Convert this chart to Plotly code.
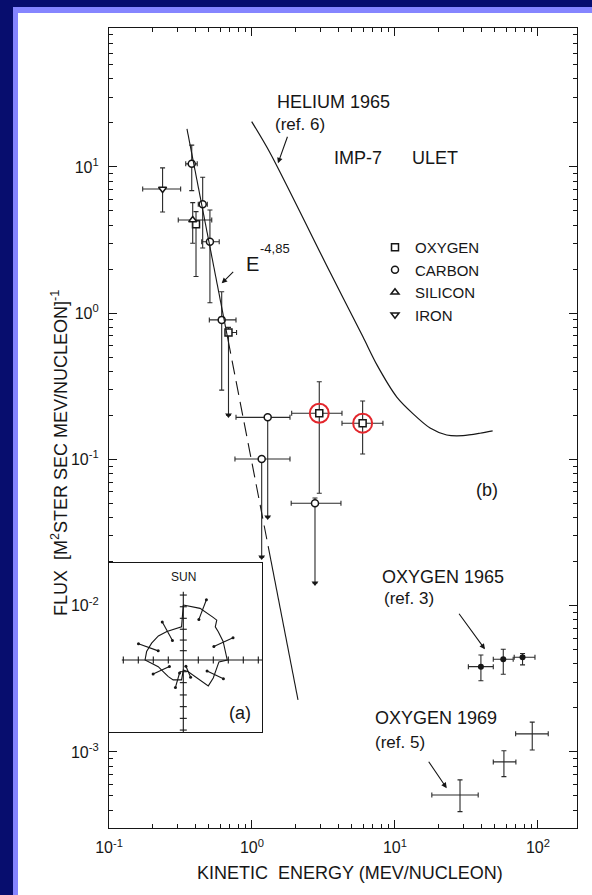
import numpy as np
import plotly.graph_objects as go

# ---------------- data ----------------
# IMP-7 ULET measurements (energy MeV/nucleon, flux)
pt_species = ["IRON", "CARBON", "CARBON", "SILICON", "OXYGEN", "CARBON", "CARBON",
              "OXYGEN", "CARBON", "OXYGEN", "OXYGEN", "CARBON", "CARBON"]
pt_E = [0.237, 0.379, 0.452, 0.385, 0.406, 0.508, 0.614, 0.685, 1.288, 2.955, 5.94, 1.169, 2.758]
pt_F = [7.07, 10.5, 5.56, 4.34, 4.06, 3.08, 0.90, 0.738, 0.194, 0.207, 0.177, 0.1008, 0.0502]
pt_E_lo = [0.172, 0.344, 0.421, 0.305, 0.406, 0.445, 0.503, 0.665, 0.773, 1.895, 4.26, 0.760, 1.88]
pt_E_hi = [0.317, 0.414, 0.487, 0.523, 0.406, 0.590, 0.773, 0.780, 1.844, 4.26, 8.24, 1.844, 4.19]
pt_F_lo = [4.92, 6.89, 2.79, 3.01, 1.78, 1.18, 0.298, 0.201, 0.0404, 0.0587, 0.109, 0.0215, 0.0143]
pt_F_hi = [9.85, 14.1, 8.5, 5.70, 4.95, 5.08, 1.40, 0.80, 0.194, 0.340, 0.251, 0.1008, 0.0545]
pt_upper_limit = [False, False, False, False, False, False, False, True, True, False, False, True, True]
pt_circled = [False, False, False, False, False, False, False, False, False, True, True, False, False]

species_order = ["OXYGEN", "CARBON", "SILICON", "IRON"]
species_symbol = {"OXYGEN": "square", "CARBON": "circle", "SILICON": "triangle-up", "IRON": "triangle-down"}

# Helium 1965 (ref. 6)
he_E = [0.995, 1.336, 3.51, 5.97, 7.48, 10.3, 13.4, 17.6, 23.0, 29.9, 39.3, 48.2]
he_F = [20.4, 12.5, 1.91, 0.689, 0.443, 0.267, 0.205, 0.164, 0.147, 0.1455, 0.151, 0.157]

# E^-4.85 fit line (solid / dashed / solid pieces)
fit_solid1_E = [0.351, 0.68]
fit_solid1_F = [18.2, 0.656]
fit_dash_E = [0.68, 1.354]
fit_dash_F = [0.656, 0.0206]
fit_solid2_E = [1.354, 2.098]
fit_solid2_F = [0.0206, 0.00227]

# Oxygen 1965 (ref. 3)
o65_E = [39.9, 57.2, 78.0]
o65_F = [0.00383, 0.00430, 0.00444]
o65_E_lo = [32.6, 48.7, 68.2]
o65_E_hi = [48.7, 67.1, 95.3]
o65_F_lo = [0.00307, 0.00340, 0.00394]
o65_F_hi = [0.00460, 0.00504, 0.00471]

# Oxygen 1969 (ref. 5)
o69_E = [28.5, 57.8, 91.2]
o69_F = [0.000508, 0.000855, 0.00133]
o69_E_lo = [18.1, 48.7, 69.8]
o69_E_hi = [38.2, 70.1, 118.0]
o69_F_lo = [0.000391, 0.000678, 0.00103]
o69_F_hi = [0.000644, 0.00102, 0.00160]

# axis tick labels
x_tickvals = [0.1, 1, 10, 100]
x_ticktext = ["10<sup>-1</sup>", "10<sup>0</sup>", "10<sup>1</sup>", "10<sup>2</sup>"]
y_tickvals = [0.001, 0.01, 0.1, 1, 10]
y_ticktext = ["10<sup>-3</sup>", "10<sup>-2</sup>", "10<sup>-1</sup>", "10<sup>0</sup>", "10<sup>1</sup>"]

# Inset (a): angular distribution (angle clockwise from sun direction, radius)
inset_theta = [0, 18, 35, 40, 44, 51, 65, 90, 93, 121, 136, 157, 180, 185, 207, 222, 240,
               255, 270, 283, 298, 314, 330, 357, 360]
inset_r = [3.67, 3.62, 3.47, 3.47, 3.07, 3.00, 2.93, 2.93, 2.38, 2.33, 2.40, 0.85, 0.67, 1.33,
           1.49, 1.49, 1.55, 1.73, 2.55, 2.51, 2.39, 2.31, 2.19, 2.22, 3.67]
inset_err_theta = [21, 66, 115, 157, 196, 245, 290, 331]
inset_err_r = [3.60, 2.93, 2.35, 0.85, 1.40, 1.62, 2.48, 2.19]
inset_err_dr = [0.70, 0.70, 0.60, 0.40, 0.50, 0.60, 0.70, 0.70]
inset_haxis = [-4.1, 5.25]
inset_vaxis = [4.55, -4.8]
inset_hticks = [-4, -3, -2, -1, 1, 2, 3, 4, 5]
inset_vticks = [4.33, 3.55, 2.78, 2.05, 1.33, 0.62, -0.78, -1.51, -2.33, -3.11, -3.89, -4.67]

# arrows (head position in data units, tail offset in px)
arrow_heads_E = [1.52, 0.614, 42.6, 23.0]
arrow_heads_F = [10.6, 1.60, 0.00504, 0.000565]
arrow_ax = [10, 13, -27, -19]
arrow_ay = [-28, -13, -37, -28]

# ---------------- figure ----------------
INK = "#161616"
FONT = "Liberation Sans, Arial, sans-serif"
fig = go.Figure()

ebar = dict(color="#2a2a2a", thickness=1.1, width=2.5)

for sp in species_order:
    idx = [i for i, s in enumerate(pt_species) if s == sp]
    E = np.array([pt_E[i] for i in idx])
    F = np.array([pt_F[i] for i in idx])
    Elo = np.array([pt_E_lo[i] for i in idx])
    Ehi = np.array([pt_E_hi[i] for i in idx])
    Flo = np.array([pt_F_lo[i] for i in idx])
    Fhi = np.array([pt_F_hi[i] for i in idx])
    fig.add_trace(go.Scatter(
        x=E, y=F, mode="markers", name=sp,
        marker=dict(symbol=species_symbol[sp], size=7, color="white",
                    line=dict(color=INK, width=1.5)),
        error_x=dict(type="data", symmetric=False, array=Ehi - E, arrayminus=E - Elo, **ebar),
        error_y=dict(type="data", symmetric=False, array=Fhi - F, arrayminus=F - Flo, **ebar),
    ))

# upper-limit arrow heads
ul = [i for i in range(len(pt_E)) if pt_upper_limit[i]]
fig.add_trace(go.Scatter(
    x=[pt_E[i] for i in ul], y=[pt_F_lo[i] for i in ul], mode="markers", showlegend=False,
    marker=dict(symbol="triangle-down", size=6, color=INK),
))

# red rings
ci = [i for i in range(len(pt_E)) if pt_circled[i]]
fig.add_trace(go.Scatter(
    x=[pt_E[i] for i in ci], y=[pt_F[i] for i in ci], mode="markers", showlegend=False,
    marker=dict(symbol="circle-open", size=19, color="#e3262c", line=dict(width=2, color="#e3262c")),
))

# helium curve
fig.add_trace(go.Scatter(x=he_E, y=he_F, mode="lines", showlegend=False,
                         line=dict(color=INK, width=1.2, shape="spline", smoothing=0.8)))

# fit line
fig.add_trace(go.Scatter(x=fit_solid1_E, y=fit_solid1_F, mode="lines", showlegend=False,
                         line=dict(color=INK, width=1.1)))
fig.add_trace(go.Scatter(x=fit_dash_E, y=fit_dash_F, mode="lines", showlegend=False,
                         line=dict(color=INK, width=1.1, dash="14px,7px")))
fig.add_trace(go.Scatter(x=fit_solid2_E, y=fit_solid2_F, mode="lines", showlegend=False,
                         line=dict(color=INK, width=1.1)))

# oxygen 1965
o65_E_a, o65_F_a = np.array(o65_E), np.array(o65_F)
fig.add_trace(go.Scatter(
    x=o65_E_a, y=o65_F_a, mode="markers", showlegend=False,
    marker=dict(symbol="circle", size=6, color=INK),
    error_x=dict(type="data", symmetric=False, array=np.array(o65_E_hi) - o65_E_a,
                 arrayminus=o65_E_a - np.array(o65_E_lo), **ebar),
    error_y=dict(type="data", symmetric=False, array=np.array(o65_F_hi) - o65_F_a,
                 arrayminus=o65_F_a - np.array(o65_F_lo), **ebar),
))
# oxygen 1969
o69_E_a, o69_F_a = np.array(o69_E), np.array(o69_F)
fig.add_trace(go.Scatter(
    x=o69_E_a, y=o69_F_a, mode="markers", showlegend=False,
    marker=dict(symbol="circle", size=1, color="rgba(0,0,0,0)"),
    error_x=dict(type="data", symmetric=False, array=np.array(o69_E_hi) - o69_E_a,
                 arrayminus=o69_E_a - np.array(o69_E_lo), **ebar),
    error_y=dict(type="data", symmetric=False, array=np.array(o69_F_hi) - o69_F_a,
                 arrayminus=o69_F_a - np.array(o69_F_lo), **ebar),
))

# ---------------- inset (a) ----------------
th = np.radians(inset_theta)
r = np.array(inset_r)
fig.add_trace(go.Scatter(x=r * np.sin(th), y=r * np.cos(th), mode="lines", showlegend=False,
                         xaxis="x2", yaxis="y2", line=dict(color=INK, width=1.1)))
fig.add_trace(go.Scatter(x=inset_haxis, y=[0, 0], mode="lines", showlegend=False,
                         xaxis="x2", yaxis="y2", line=dict(color=INK, width=1.1)))
fig.add_trace(go.Scatter(x=[0, 0], y=inset_vaxis, mode="lines", showlegend=False,
                         xaxis="x2", yaxis="y2", line=dict(color=INK, width=1.1)))
fig.add_trace(go.Scatter(x=inset_hticks, y=[0] * len(inset_hticks), mode="markers", showlegend=False,
                         xaxis="x2", yaxis="y2",
                         marker=dict(symbol="line-ns", size=5, line=dict(color=INK, width=1.1))))
fig.add_trace(go.Scatter(x=[0] * len(inset_vticks), y=inset_vticks, mode="markers", showlegend=False,
                         xaxis="x2", yaxis="y2",
                         marker=dict(symbol="line-ew", size=5, line=dict(color=INK, width=1.1))))
ex, ey, cx, cy = [], [], [], []
for t, rr, dr in zip(inset_err_theta, inset_err_r, inset_err_dr):
    tr = np.radians(t)
    x0, y0 = (rr - dr) * np.sin(tr), (rr - dr) * np.cos(tr)
    x1, y1 = (rr + dr) * np.sin(tr), (rr + dr) * np.cos(tr)
    ex += [x0, x1, None]
    ey += [y0, y1, None]
    cx += [x0, x1]
    cy += [y0, y1]
fig.add_trace(go.Scatter(x=ex, y=ey, mode="lines", showlegend=False, xaxis="x2", yaxis="y2",
                         line=dict(color=INK, width=1.1)))
fig.add_trace(go.Scatter(x=cx, y=cy, mode="markers", showlegend=False, xaxis="x2", yaxis="y2",
                         marker=dict(symbol="circle", size=3, color=INK)))


# ---------------- layout ----------------
def px_x(px):
    return (px - 109) / 468


def px_y(py):
    return (828 - py) / 800


def label(text, px, py, size=18, xanchor="left", **kw):
    return dict(text=text, x=px_x(px), y=px_y(py), xref="paper", yref="paper",
                xanchor=xanchor, yanchor="middle", showarrow=False,
                font=dict(size=size, color=INK, family=FONT), **kw)


annotations = [
    label("HELIUM 1965", 275, 102, 18),
    label("(ref. 6)", 273, 125, 17),
    label("IMP-7", 332, 158, 18),
    label("ULET", 410, 158, 18),
    label("E", 244, 264, 20),
    label("-4,85", 258, 248, 13),
    label("(b)", 487, 490, 18, xanchor="center"),
    label("OXYGEN 1965", 380, 577, 18),
    label("(ref. 3)", 382, 598, 17),
    label("OXYGEN 1969", 373, 718, 18),
    label("(ref. 5)", 373, 742, 17),
    label("KINETIC  ENERGY (MEV/NUCLEON)", 350, 873, 18, xanchor="center"),
    label("FLUX  [M<sup>2</sup>STER SEC MEV/NUCLEON]<sup>-1</sup>", 59, 453, 18,
          xanchor="center", textangle=-90),
    dict(text="SUN", x=0, y=5.53, xref="x2", yref="y2", showarrow=False,
         font=dict(size=12, color=INK, family=FONT)),
    dict(text="(a)", x=3.78, y=-3.53, xref="x2", yref="y2", showarrow=False,
         font=dict(size=18, color=INK, family=FONT)),
]
for hx, hy, ax, ay in zip(arrow_heads_E, arrow_heads_F, arrow_ax, arrow_ay):
    annotations.append(dict(x=np.log10(hx), y=np.log10(hy), xref="x", yref="y", text="",
                            showarrow=True, ax=ax, ay=ay, arrowhead=2, arrowsize=1,
                            arrowwidth=1.1, arrowcolor=INK, standoff=0))

NAVY = "#070d6e"
LIGHT = "#8585ff"
shapes = [
    dict(type="rect", xref="paper", yref="paper", x0=px_x(13), x1=1.1, y0=px_y(7), y1=-0.15,
         fillcolor=LIGHT, line=dict(width=0), layer="below"),
    dict(type="rect", xref="paper", yref="paper", x0=px_x(18), x1=1.1, y0=px_y(13), y1=-0.15,
         fillcolor="white", line=dict(width=0), layer="below"),
]

axis_common = dict(
    type="log", showgrid=False, zeroline=False, showline=True, linecolor=INK, linewidth=1.2,
    mirror="ticks", ticks="inside", ticklen=8, tickwidth=1.2, tickcolor=INK,
    tickfont=dict(size=16, color=INK, family=FONT),
    minor=dict(ticks="inside", ticklen=4, tickwidth=1, tickcolor=INK, dtick="D1", showgrid=False),
)

fig.update_layout(
    width=592, height=895,
    margin=dict(l=109, r=15, t=28, b=67, autoexpand=False),
    paper_bgcolor=NAVY, plot_bgcolor="white",
    font=dict(family=FONT, color=INK),
    xaxis=dict(range=[-1, 2.273], tickmode="array", tickvals=x_tickvals, ticktext=x_ticktext,
               ticklabelstandoff=5, **axis_common),
    yaxis=dict(range=[-3.52, 1.95], tickmode="array", tickvals=y_tickvals, ticktext=y_ticktext,
               ticklabelstandoff=6, **axis_common),
    xaxis2=dict(domain=[0, px_x(262)], range=[-4.953, 5.247], anchor="y2", showgrid=False,
                zeroline=False, showticklabels=False, ticks="", showline=True, mirror=True,
                linecolor=INK, linewidth=1.1),
    yaxis2=dict(domain=[px_y(732), px_y(563)], range=[-4.8, 6.467], anchor="x2", showgrid=False,
                zeroline=False, showticklabels=False, ticks="", showline=True, mirror=True,
                linecolor=INK, linewidth=1.1),
    legend=dict(x=px_x(375), y=px_y(231), xanchor="left", yanchor="top",
                bgcolor="rgba(0,0,0,0)", font=dict(size=15, color=INK, family=FONT),
                itemwidth=30, tracegroupgap=0),
    annotations=annotations,
    shapes=shapes,
)

fig.write_html(
    "out.html",
    config={"displayModeBar": False},
    post_script="document.body.style.margin='0px';document.body.style.overflow='hidden';",
)
